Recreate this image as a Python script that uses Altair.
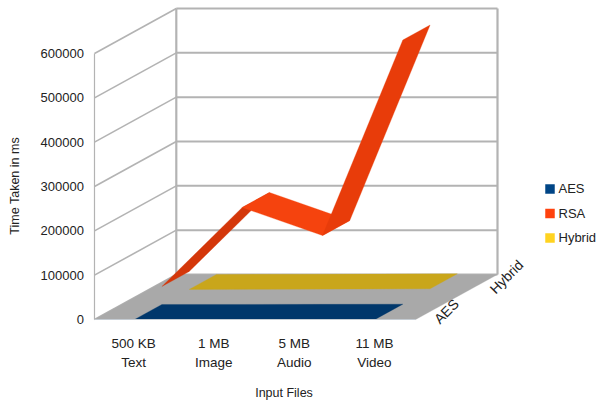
import json

import altair as alt
import pandas as pd

# Chart values
files = ["500 KB\nText", "1 MB\nImage", "5 MB\nAudio", "11 MB\nVideo"]
series = ["AES", "RSA", "Hybrid"]
aes_ms = [60, 120, 350, 700]
rsa_ms = [40600, 218800, 155600, 596600]
hybrid_ms = [200, 400, 900, 1500]
value_ticks = [0, 100000, 200000, 300000, 400000, 500000, 600000]

# Oblique projection: one full step into the chart, in data units
DEPTH_X = 82 / 80.5
DEPTH_Y = 101500
N = len(files)
X_MAX = N + DEPTH_X
Y_MAX = value_ticks[-1] + DEPTH_Y
FONT = "Liberation Sans"
TEXT = "#222222"

x_scale = alt.Scale(domain=[0, X_MAX], nice=False, zero=False)
y_scale = alt.Scale(domain=[0, Y_MAX], nice=False, zero=False)

# Ticks and domain lines are carried by the wall grid
label_lines = json.dumps([f.split("\n") for f in files])
label_positions = [k + 0.48 for k in range(N)]
x_axis = alt.Axis(
    values=label_positions,
    labelExpr=f"{label_lines}[floor(datum.value)]",
    grid=False,
    ticks=False,
    domain=False,
    labelFont=FONT,
    labelFontSize=13.5,
    labelColor=TEXT,
    labelPadding=17,
    labelLineHeight=19,
    title="Input Files",
    titleFont=FONT,
    titleFontSize=12.5,
    titleFontWeight="normal",
    titleColor=TEXT,
    titleX=189,
    titleY=67,
)
y_axis = alt.Axis(
    values=value_ticks,
    format="d",
    grid=False,
    ticks=False,
    domain=False,
    labelFont=FONT,
    labelFontSize=13,
    labelColor=TEXT,
    labelPadding=11,
    title="Time Taken in ms",
    titleFont=FONT,
    titleFontSize=12.5,
    titleFontWeight="normal",
    titleColor=TEXT,
    titleX=-73,
    titleY=177,
)
x_enc = alt.X("x:Q", scale=x_scale, axis=x_axis)
y_enc = alt.Y("y:Q", scale=y_scale, axis=y_axis)


def project(cat, value, depth):
    return cat + depth * DEPTH_X, value + depth * DEPTH_Y


def face(points, color):
    rows = []
    for i, (cat, value, depth) in enumerate(points):
        x, y = project(cat, value, depth)
        rows.append({"i": i, "x": x, "y": y})
    return (
        alt.Chart(pd.DataFrame(rows))
        .mark_line(filled=True, interpolate="linear-closed", fill=color, stroke=color, strokeWidth=0.3)
        .encode(x=x_enc, y=y_enc, order=alt.Order("i:Q"))
    )


def flat_ribbon(values, near, far, color):
    """A nearly flat series as one polygon, out along the near edge and back along the far."""
    out = [(k + 0.5, v, near) for k, v in enumerate(values)]
    back = [(k + 0.5, v, far) for k, v in enumerate(values)]
    return face(out + back[::-1], color)


def folded_ribbon(values, near, far, colors):
    """One quad per interval, so each slope can take its own shade."""
    return [
        face(
            [
                (k + 0.5, values[k], near),
                (k + 0.5, values[k], far),
                (k + 1.5, values[k + 1], far),
                (k + 1.5, values[k + 1], near),
            ],
            colors[k],
        )
        for k in range(len(values) - 1)
    ]


def segments(rows, width, color="#b3b3b3"):
    return (
        alt.Chart(pd.DataFrame(rows, columns=["x", "y", "x2", "y2"]))
        .mark_rule(stroke=color, strokeWidth=width)
        .encode(x=x_enc, y=y_enc, x2="x2:Q", y2="y2:Q")
    )


top = value_ticks[-1]
back_grid = segments(
    [(*project(0, v, 1), *project(N, v, 1)) for v in value_ticks], 2
)
side_grid = segments(
    [(*project(0, v, 0), *project(0, v, 1)) for v in value_ticks], 1.6
)
front_post = segments([(*project(0, 0, 0), *project(0, top, 0))], 1.2)
back_posts = segments(
    [(*project(0, 0, 1), *project(0, top, 1)), (*project(N, 0, 1), *project(N, top, 1))], 2.2
)
front_edge = segments([(*project(0, 0, 0), *project(N, 0, 0))], 1, "#c4cbd2")

floor = face([(0, 0, 0), (0, 0, 1), (N, 0, 1), (N, 0, 0)], "#a9a9a9")

hybrid_face = flat_ribbon(hybrid_ms, 2 / 3, 1, "#c9a61b")
rsa_faces = folded_ribbon(rsa_ms, 1 / 3, 2 / 3, ["#d4370a", "#f5430e", "#e83c0a"])
aes_face = flat_ribbon(aes_ms, 0, 1 / 3, "#00376b")

# Depth labels beside the right floor edge
depth_rows = []
for name, depth, nudge_x, nudge_y in [("AES", 1 / 6, 0.22, 0), ("Hybrid", 5 / 6, 0.29, 10000)]:
    x, y = project(N, 0, depth)
    depth_rows.append({"name": name, "x": x + nudge_x, "y": y + nudge_y})
depth_labels = (
    alt.Chart(pd.DataFrame(depth_rows))
    .mark_text(angle=315, font=FONT, fontSize=14, color=TEXT)
    .encode(x=x_enc, y=y_enc, text="name:N")
)

# Zero-size marks that only feed the legend
legend_layer = (
    alt.Chart(pd.DataFrame({"name": series, "x": [0] * 3, "y": [0] * 3}))
    .mark_square(size=0, opacity=1)
    .encode(
        x=x_enc,
        y=y_enc,
        color=alt.Color(
            "name:N",
            scale=alt.Scale(domain=series, range=["#004586", "#ff420e", "#ffd320"]),
            legend=alt.Legend(
                title=None,
                orient="none",
                legendX=449,
                legendY=174,
                symbolType="square",
                symbolSize=90,
                symbolStrokeWidth=0,
                symbolOpacity=1,
                labelFont=FONT,
                labelFontSize=13,
                labelColor=TEXT,
                labelOffset=2,
                rowPadding=10.5,
            ),
        ),
    )
)

chart = alt.layer(
    back_grid,
    side_grid,
    front_post,
    back_posts,
    floor,
    hybrid_face,
    *rsa_faces,
    aes_face,
    front_edge,
    depth_labels,
    legend_layer,
).properties(
    width=403,
    height=311,
    background="white",
    padding={"left": 94.5, "top": 8.5, "right": 98.5, "bottom": 83.5},
    autosize=alt.AutoSizeParams(type="none"),
).configure_view(stroke=None)

chart.save("out.html", embed_options={"renderer": "svg", "actions": False})
